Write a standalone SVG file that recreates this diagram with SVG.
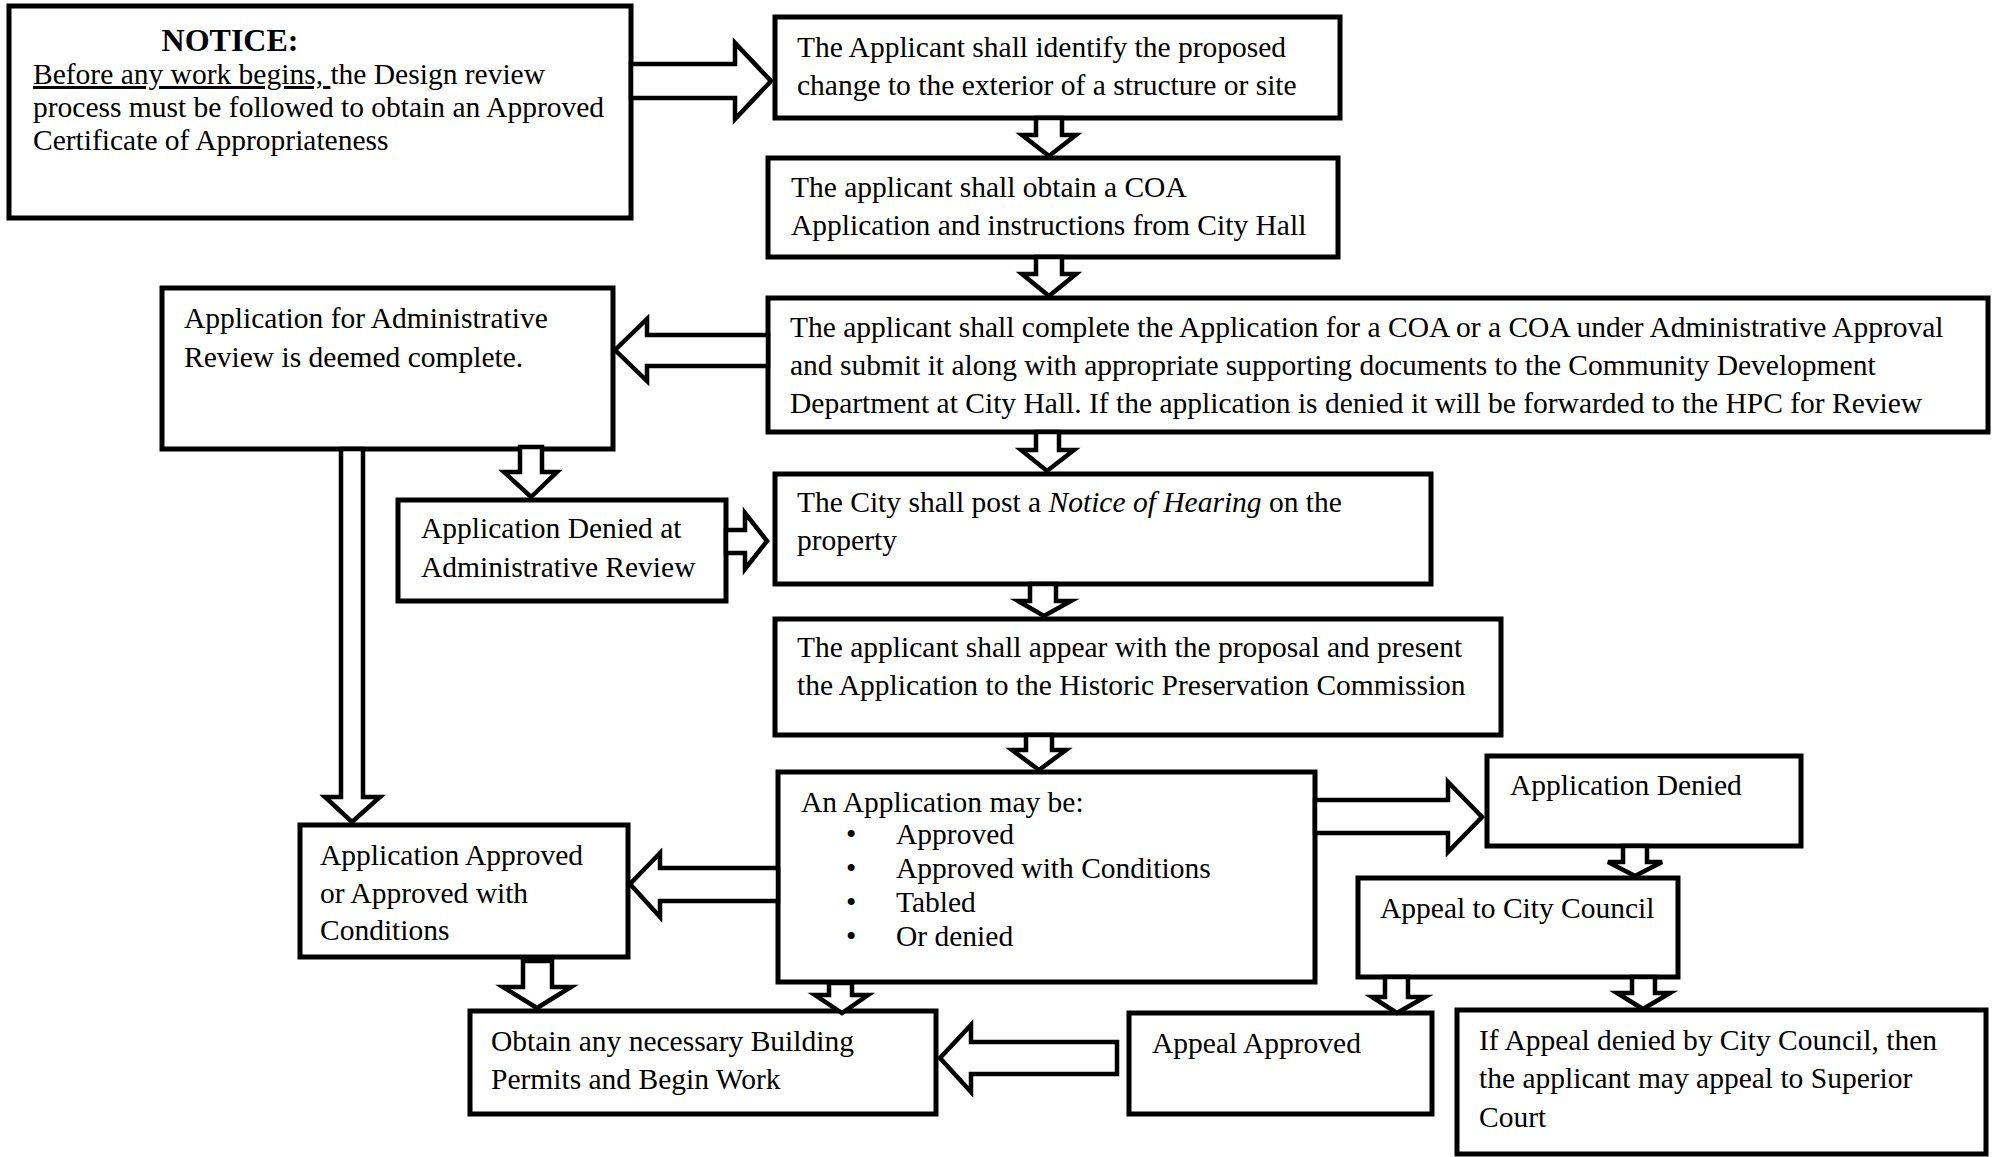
<svg xmlns="http://www.w3.org/2000/svg" width="1998" height="1157" viewBox="0 0 1998 1157">
<style>
.box { fill: #fff; stroke: #000; stroke-width: 5; }
.arr { fill: #fff; stroke: #000; stroke-width: 4.5; stroke-linejoin: miter; }
.t { font-family: "Liberation Serif", "Times New Roman", serif; font-size: 29.5px; fill: #000; }
.b { font-weight: bold; font-size: 32px; }
.u { text-decoration: underline; }
.i { font-style: italic; }
</style>
<rect width="1998" height="1157" fill="#fff"/>
<g id="notice">
<rect class="box" x="9" y="6" width="622" height="212"/>
<text class="t b" x="230" y="51" text-anchor="middle">NOTICE:</text>
<text class="t" x="33" y="84"><tspan class="u">Before any work begins, </tspan>the Design review</text>
<text class="t" x="33" y="117">process must be followed to obtain an Approved</text>
<text class="t" x="33" y="150">Certificate of Appropriateness</text>
</g>
<g id="identify">
<rect class="box" x="775" y="17" width="565" height="101"/>
<text class="t" x="797" y="57">The Applicant shall identify the proposed</text>
<text class="t" x="797" y="95">change to the exterior of a structure or site</text>
</g>
<g id="obtain-coa">
<rect class="box" x="768" y="158" width="570" height="99"/>
<text class="t" x="791" y="197">The applicant shall obtain a COA</text>
<text class="t" x="791" y="235">Application and instructions from City Hall</text>
</g>
<g id="complete">
<rect class="box" x="768" y="298" width="1220" height="134"/>
<text class="t" x="790" y="337">The applicant shall complete the Application for a COA or a COA under Administrative Approval</text>
<text class="t" x="790" y="375">and submit it along with appropriate supporting documents to the Community Development</text>
<text class="t" x="790" y="413">Department at City Hall. If the application is denied it will be forwarded to the HPC for Review</text>
</g>
<g id="admin-complete">
<rect class="box" x="162" y="288" width="451" height="161"/>
<text class="t" x="184" y="328">Application for Administrative</text>
<text class="t" x="184" y="367">Review is deemed complete.</text>
</g>
<g id="admin-denied">
<rect class="box" x="398" y="500" width="328" height="101"/>
<text class="t" x="421" y="538">Application Denied at</text>
<text class="t" x="421" y="577">Administrative Review</text>
</g>
<g id="hearing">
<rect class="box" x="775" y="474" width="656" height="110"/>
<text class="t" x="797" y="512">The City shall post a <tspan class="i">Notice of Hearing</tspan> on the</text>
<text class="t" x="797" y="550">property</text>
</g>
<g id="appear">
<rect class="box" x="775" y="619" width="726" height="116"/>
<text class="t" x="797" y="657">The applicant shall appear with the proposal and present</text>
<text class="t" x="797" y="695">the Application to the Historic Preservation Commission</text>
</g>
<g id="may-be">
<rect class="box" x="778" y="772" width="537" height="210"/>
<text class="t" x="801" y="812">An Application may be:</text>
<text class="t" x="846" y="844">•</text>
<text class="t" x="896" y="844">Approved</text>
<text class="t" x="846" y="878">•</text>
<text class="t" x="896" y="878">Approved with Conditions</text>
<text class="t" x="846" y="912">•</text>
<text class="t" x="896" y="912">Tabled</text>
<text class="t" x="846" y="946">•</text>
<text class="t" x="896" y="946">Or denied</text>
</g>
<g id="approved">
<rect class="box" x="300" y="825" width="328" height="132"/>
<text class="t" x="320" y="865">Application Approved</text>
<text class="t" x="320" y="903">or Approved with</text>
<text class="t" x="320" y="940">Conditions</text>
</g>
<g id="permits">
<rect class="box" x="470" y="1011" width="466" height="103"/>
<text class="t" x="491" y="1051">Obtain any necessary Building</text>
<text class="t" x="491" y="1089">Permits and Begin Work</text>
</g>
<g id="app-denied">
<rect class="box" x="1487" y="756" width="314" height="90"/>
<text class="t" x="1510" y="795">Application Denied</text>
</g>
<g id="appeal-cc">
<rect class="box" x="1358" y="878" width="320" height="99"/>
<text class="t" x="1380" y="918">Appeal to City Council</text>
</g>
<g id="appeal-approved">
<rect class="box" x="1129" y="1013" width="303" height="101"/>
<text class="t" x="1152" y="1053">Appeal Approved</text>
</g>
<g id="superior">
<rect class="box" x="1457" y="1010" width="529" height="144"/>
<text class="t" x="1479" y="1050">If Appeal denied by City Council, then</text>
<text class="t" x="1479" y="1088">the applicant may appeal to Superior</text>
<text class="t" x="1479" y="1127">Court</text>
</g>
<g id="connectors">
<polygon class="arr" points="631,64 735,64 735,43 771,81 735,119 735,98 631,98"/>
<polygon class="arr" points="1036,118 1062,118 1062,135 1076,135 1049,156 1022,135 1036,135"/>
<polygon class="arr" points="1036,257 1062,257 1062,274 1076,274 1049,296 1022,274 1036,274"/>
<polygon class="arr" points="768,335 647,335 647,319 615,350 647,381 647,366 768,366"/>
<polygon class="arr" points="1036,432 1059,432 1059,450 1074,450 1047,471 1021,450 1036,450"/>
<polygon class="arr" points="520,447 542,447 542,472 557,472 531,497 504,472 520,472"/>
<polygon class="arr" points="341,449 363,449 363,797 380,797 352,822 325,797 341,797"/>
<polygon class="arr" points="726,530 745,530 745,513 767,541 745,569 745,553 726,553"/>
<polygon class="arr" points="1030,584 1056,584 1056,601 1071,601 1044,616 1018,601 1030,601"/>
<polygon class="arr" points="1026,735 1052,735 1052,750 1066,750 1039,770 1012,750 1026,750"/>
<polygon class="arr" points="778,868 660,868 660,853 630,884 660,917 660,901 778,901"/>
<polygon class="arr" points="1315,800 1448,800 1448,782 1482,817 1448,852 1448,833 1315,833"/>
<polygon class="arr" points="523,961 552,961 552,987 571,987 537,1008 503,987 523,987"/>
<polygon class="arr" points="829,983 852,983 852,995 868,995 842,1013 815,995 829,995"/>
<polygon class="arr" points="1117,1042 971,1042 971,1025 940,1058 971,1092 971,1074 1117,1074"/>
<polygon class="arr" points="1623,846 1647,846 1647,862 1662,862 1635,876 1608,862 1623,862"/>
<polygon class="arr" points="1385,977 1408,977 1408,997 1425,997 1397,1013 1372,997 1385,997"/>
<polygon class="arr" points="1632,977 1655,977 1655,993 1670,993 1643,1009 1617,993 1632,993"/>
</g>
</svg>
